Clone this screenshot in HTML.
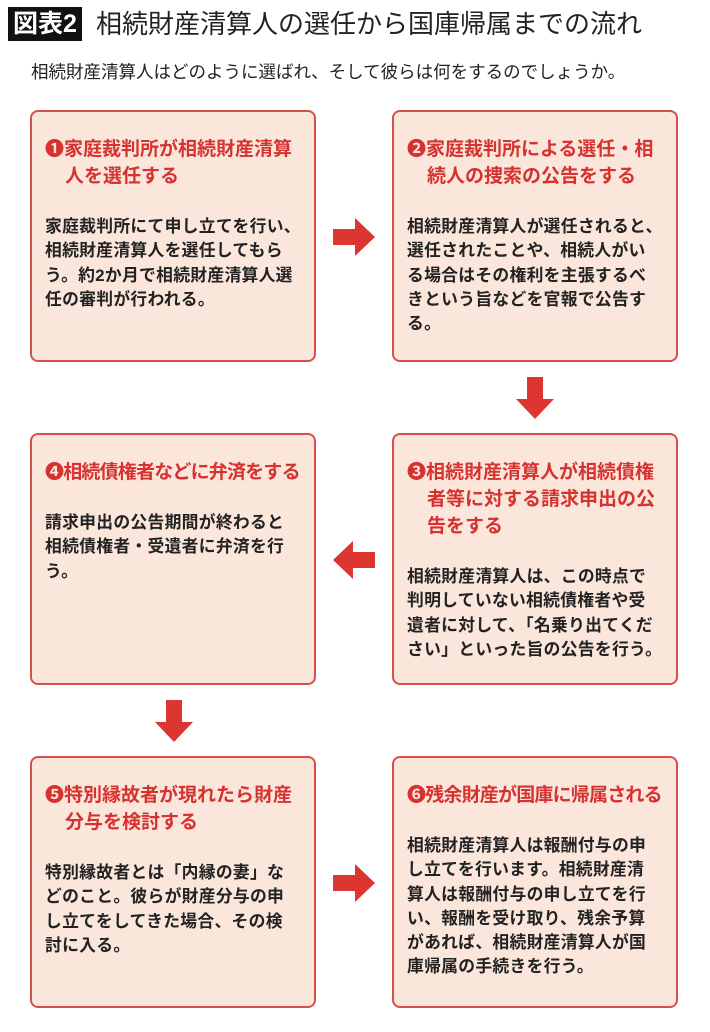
<!DOCTYPE html>
<html><head><meta charset="utf-8"><style>
*{margin:0;padding:0;box-sizing:border-box}
body{width:710px;height:1032px;background:#fff;position:relative;font-family:"Liberation Sans","Noto Sans CJK JP",sans-serif;overflow:hidden}
.tt{position:absolute;left:8px;top:7px;height:34px;background:#111;color:#fff;font-size:25px;font-weight:bold;padding:0 5px;line-height:34px}
.title{position:absolute;left:96px;top:5px;font-size:26px;color:#222;line-height:38px;white-space:nowrap}
.sub{position:absolute;left:31px;top:59px;font-size:17.5px;color:#222;white-space:nowrap}
.box{position:absolute;width:286px;height:252px;background:#fbe6dc;border:2px solid #d6504c;border-radius:8px;padding:24px 12px 0 13px}
.h{color:#d6322f;font-weight:bold;font-size:19px;line-height:27px;padding-left:20px;text-indent:-20px;white-space:nowrap}
.b{color:#222;font-weight:bold;font-size:16.8px;line-height:24.3px;margin-top:25px;white-space:nowrap;letter-spacing:0.3px}
.n{letter-spacing:-0.8px}
svg{position:absolute}
</style></head><body>
<div class="tt">図表2</div>
<div class="title">相続財産清算人の選任から国庫帰属までの流れ</div>
<div class="sub">相続財産清算人はどのように選ばれ、そして彼らは何をするのでしょうか。</div>

<div class="box" style="left:30px;top:110px"><div class="h">❶家庭裁判所が相続財産清算<br>人を選任する</div><div class="b">家庭裁判所にて申し立てを行い、<br>相続財産清算人を選任してもら<br>う。約2か月で相続財産清算人選<br>任の審判が行われる。</div></div>
<div class="box" style="left:392px;top:110px"><div class="h">❷家庭裁判所による選任・相<br>続人の捜索の公告をする</div><div class="b">相続財産清算人が選任されると、<br>選任されたことや、相続人がい<br>る場合はその権利を主張するべ<br>きという旨などを官報で公告す<br>る。</div></div>
<div class="box" style="left:30px;top:433px"><div class="h n">❹相続債権者などに弁済をする</div><div class="b">請求申出の公告期間が終わると<br>相続債権者・受遺者に弁済を行<br>う。</div></div>
<div class="box" style="left:392px;top:433px"><div class="h">❸相続財産清算人が相続債権<br>者等に対する請求申出の公<br>告をする</div><div class="b">相続財産清算人は、この時点で<br>判明していない相続債権者や受<br>遺者に対して、「名乗り出てくだ<br>さい」といった旨の公告を行う。</div></div>
<div class="box" style="left:30px;top:756px"><div class="h">❺特別縁故者が現れたら財産<br>分与を検討する</div><div class="b">特別縁故者とは「内縁の妻」な<br>どのこと。彼らが財産分与の申<br>し立てをしてきた場合、その検<br>討に入る。</div></div>
<div class="box" style="left:392px;top:756px"><div class="h n">❻残余財産が国庫に帰属される</div><div class="b">相続財産清算人は報酬付与の申<br>し立てを行います。相続財産清<br>算人は報酬付与の申し立てを行<br>い、報酬を受け取り、残余予算<br>があれば、相続財産清算人が国<br>庫帰属の手続きを行う。</div></div>

<svg style="left:333px;top:218px" width="42" height="38"><polygon points="0,11 22,11 22,0 42,19 22,38 22,27 0,27" fill="#dc3532"/></svg>
<svg style="left:333px;top:541px" width="42" height="38"><polygon points="42,11 20,11 20,0 0,19 20,38 20,27 42,27" fill="#dc3532"/></svg>
<svg style="left:333px;top:864px" width="42" height="38"><polygon points="0,11 22,11 22,0 42,19 22,38 22,27 0,27" fill="#dc3532"/></svg>
<svg style="left:516px;top:377px" width="38" height="42"><polygon points="11,0 27,0 27,22 38,22 19,42 0,22 11,22" fill="#dc3532"/></svg>
<svg style="left:155px;top:700px" width="38" height="42"><polygon points="11,0 27,0 27,22 38,22 19,42 0,22 11,22" fill="#dc3532"/></svg>
</body></html>
